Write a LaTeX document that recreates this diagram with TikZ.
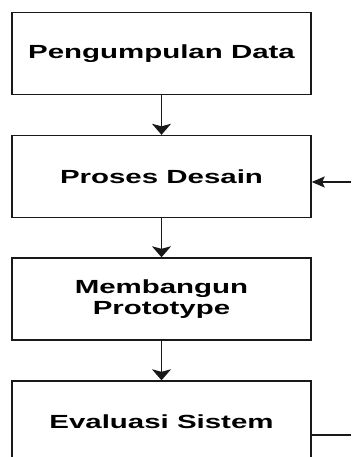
\documentclass[tikz,border=0pt]{standalone}
\usepackage{fontspec}
\usepackage{graphicx}
\setmainfont{Liberation Sans}
\usetikzlibrary{arrows.meta}
\newcommand\widetext[1]{\scalebox{1.55}[1]{#1}}
\begin{document}
\begin{tikzpicture}[x=1pt,y=-1pt,
  procbox/.style={draw=black!90, line width=1.4pt, rectangle, minimum width=299pt, minimum height=82pt,
    font=\fontsize{19}{21.5}\selectfont\bfseries, text=black, align=center, inner sep=0pt},
  flow/.style={draw=black!90, line width=1.4pt, -{Stealth[length=11pt,width=19pt,inset=2.5pt]}},
  flowh/.style={draw=black!90, line width=1.4pt, -{Stealth[length=13pt,width=11pt,inset=2.5pt]}},
  plain/.style={draw=black!90, line width=1.4pt}]
\useasboundingbox (0,0) rectangle (351,457);
\node[procbox] (b1) at (161.5,53.5) {\widetext{Pengumpulan Data}};
\node[procbox] (b2) at (161.5,176.5) {\widetext{Proses Desain}};
\node[procbox] (b3) at (161.5,299) {\widetext{Membangun}\\\widetext{Prototype}};
\node[procbox] (b4) at (161.5,422) {\widetext{Evaluasi Sistem}};
\coordinate (inend) at (351,182);
\coordinate (outend) at (351,435);
\draw[flow] (b1) -- (b2);
\draw[flow] (b2) -- (b3);
\draw[flow] (b3) -- (b4);
\draw[flowh] (inend) -- (inend -| b2.east);
\draw[plain] (outend -| b4.east) -- (outend);
\end{tikzpicture}
\end{document}
